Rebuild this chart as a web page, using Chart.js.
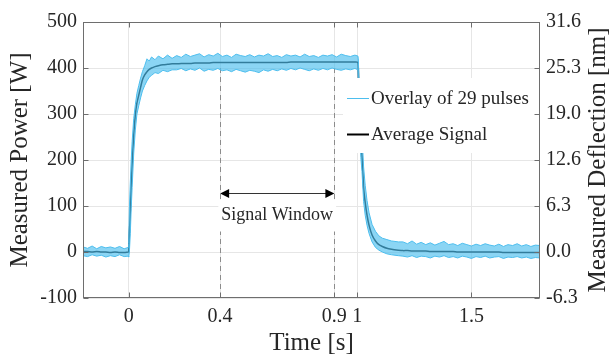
<!DOCTYPE html>
<html>
<head>
<meta charset="utf-8">
<script src="https://cdn.jsdelivr.net/npm/chart.js@4.4.1/dist/chart.umd.min.js"></script>
<style>
  html, body { margin: 0; padding: 0; background: #fff; }
  #wrap { width: 611px; height: 358px; }
</style>
</head>
<body>
<div id="wrap"><canvas id="pulseChart" width="611" height="358"></canvas></div>
<script>
// time base [s] and values [W]
const time = [
  -0.2, -0.18, -0.16, -0.14, -0.12, -0.1, -0.08, -0.06, -0.04, -0.02, -0.002,
  0, 0.003, 0.007, 0.011, 0.015, 0.022, 0.029, 0.036, 0.044, 0.052, 0.06, 0.07, 0.08, 0.09, 0.1, 0.115, 0.13, 0.15, 0.17, 0.19,
  0.21, 0.23, 0.25, 0.27, 0.29, 0.31, 0.33, 0.35, 0.37, 0.39, 0.41, 0.43, 0.45, 0.47, 0.49, 0.51, 0.53, 0.55, 0.57, 0.59,
  0.61, 0.63, 0.65, 0.67, 0.69, 0.71, 0.73, 0.75, 0.77, 0.79, 0.81, 0.83, 0.85, 0.87, 0.89, 0.91, 0.93, 0.95, 0.97, 0.99,
  1.003,
  1.005, 1.008, 1.012, 1.016, 1.021, 1.028, 1.035, 1.043, 1.052, 1.065, 1.08, 1.095, 1.11, 1.13, 1.15, 1.18,
  1.2, 1.22, 1.24, 1.26, 1.28, 1.3, 1.32, 1.34, 1.36, 1.38, 1.4, 1.42, 1.44, 1.46, 1.48, 1.5,
  1.52, 1.54, 1.56, 1.58, 1.6, 1.62, 1.64, 1.66, 1.68, 1.7, 1.72, 1.74, 1.76, 1.78, 1.8
];
const avgPower = [
  1, 1, 0, 1, 0, 0, -1, 0, -1, -1, 0,
  0, 40, 88, 145, 189, 254, 298, 324, 341, 358, 374, 385, 392, 397, 400, 403, 405, 407, 408, 409,
  409, 410, 410, 410, 411, 411, 411, 411, 412, 412, 412, 412, 412, 412, 412, 412, 412, 412, 412, 412,
  412, 412, 412, 412, 412, 413, 413, 413, 413, 413, 413, 413, 413, 413, 413, 413, 413, 413, 413, 413,
  412,
  395, 330, 275, 240, 211, 140, 108, 80, 58, 37, 24, 16, 12, 8, 6, 4,
  3, 3, 2, 2, 2, 2, 1, 1, 1, 1, 1, 1, 0, 0, 0, 0,
  0, 0, 0, 0, 0, 0, -1, -1, -1, -1, -1, -1, -1, -1, -1
];
const overlayHigh = [
  11, 8, 13, 7, 12, 9, 11, 8, 12, 7, 10,
  18, 95, 150, 200, 240, 290, 320, 345, 362, 378, 392, 405, 420, 415, 424, 418, 426, 420, 428, 421,
  427, 423, 430, 425, 428, 431, 424, 429, 426, 432, 425, 428, 423, 430, 427, 425, 429, 424, 428, 426,
  431, 425, 427, 423, 429, 426, 428, 424, 430, 425, 427, 423, 428, 426, 429, 424, 430, 427, 425, 428,
  426,
  420, 370, 320, 285, 255, 185, 145, 112, 85, 60, 45, 35, 30, 27, 24, 22,
  22, 18, 24, 17, 21, 16, 20, 15, 19, 23, 16, 18, 14, 19, 16, 13,
  17, 14, 18, 15, 13, 17, 12, 16, 14, 18, 13, 16, 12, 15, 14
];
const overlayLow = [
  -8, -10, -6, -9, -7, -11, -8, -10, -6, -10, -9,
  -11, 0, 40, 95, 140, 215, 265, 300, 318, 335, 350, 362, 372, 380, 384, 390, 388, 395, 392, 396,
  396, 399, 394, 398, 395, 400, 393, 397, 395, 399, 394, 396, 392, 397, 394, 391, 395, 393, 390, 396,
  393, 397, 394, 398, 395, 399, 396, 400, 397, 394, 398, 395, 399, 396, 400, 397, 395, 398, 396, 399,
  396,
  370, 300, 245, 205, 175, 110, 80, 58, 40, 22, 10, 4, 0, -4, -6, -8,
  -9, -11, -8, -12, -9, -10, -13, -9, -11, -8, -12, -10, -13, -9, -11, -14,
  -10, -12, -9, -13, -11, -10, -14, -11, -12, -10, -13, -11, -14, -12, -13
];

const xTicks = [0, 0.4, 0.9, 1, 1.5];
const powerTicks = [-100, 0, 100, 200, 300, 400, 500];
const nmPerWatt = 0.0632;
const windowStart = 0.4;
const windowEnd = 0.9;
const windowLevel = 128;
const windowTop = 400;
const legendLabels = ["Overlay of 29 pulses", "Average Signal"];

const blue = "#4DBEEE";
const ink = "#262626";
const serif = "'Liberation Serif', 'Times New Roman', serif";

const pts = (ys) => time.map((t, i) => ({ x: t, y: ys[i] }));

const decor = {
  id: "decor",
  beforeDatasetsDraw(chart) {
    const { ctx, scales: { x, y } } = chart;
    ctx.save();
    ctx.strokeStyle = "#8c8c8c";
    ctx.lineWidth = 1;
    ctx.setLineDash([5, 4]);
    [windowStart, windowEnd].forEach((v) => {
      const px = Math.round(x.getPixelForValue(v)) + 0.5;
      ctx.beginPath();
      ctx.moveTo(px, y.getPixelForValue(windowTop));
      ctx.lineTo(px, y.getPixelForValue(-100));
      ctx.stroke();
    });
    ctx.restore();
  },
  afterDatasetsDraw(chart) {
    const { ctx, chartArea: a, scales: { x, y } } = chart;
    ctx.save();

    // signal window arrow
    const x1 = x.getPixelForValue(windowStart);
    const x2 = x.getPixelForValue(windowEnd);
    const ay = Math.round(y.getPixelForValue(windowLevel)) + 0.5;
    ctx.strokeStyle = "#333";
    ctx.fillStyle = "#000";
    ctx.lineWidth = 1;
    ctx.beginPath();
    ctx.moveTo(x1 + 4, ay);
    ctx.lineTo(x2 - 4, ay);
    ctx.stroke();
    [[x1, 1], [x2, -1]].forEach(([px, d]) => {
      ctx.beginPath();
      ctx.moveTo(px, ay);
      ctx.lineTo(px + d * 9, ay - 4.5);
      ctx.lineTo(px + d * 9, ay + 4.5);
      ctx.closePath();
      ctx.fill();
    });

    ctx.font = "18px " + serif;
    const label = "Signal Window";
    const tw = ctx.measureText(label).width;
    const cx = (x1 + x2) / 2;
    ctx.fillStyle = "#fff";
    ctx.fillRect(cx - tw / 2 - 3, ay + 6, tw + 6, 32);
    ctx.fillStyle = ink;
    ctx.textAlign = "center";
    ctx.textBaseline = "middle";
    ctx.fillText(label, cx, ay + 22);

    // legend
    const lx = 343, ly = 78, lw = a.right - lx - 1, lh = 75;
    ctx.fillStyle = "#fff";
    ctx.fillRect(lx, ly, lw, lh);
    ctx.font = "19px " + serif;
    ctx.textAlign = "left";
    const rows = [[blue, 1, 98], ["#000", 2, 134]];
    rows.forEach(([c, w, ry], i) => {
      ctx.strokeStyle = c;
      ctx.lineWidth = w;
      ctx.beginPath();
      ctx.moveTo(347, ry + 0.5);
      ctx.lineTo(369, ry + 0.5);
      ctx.stroke();
      ctx.fillStyle = ink;
      ctx.fillText(legendLabels[i], 371, ry + 1);
    });

    // axes box with inner ticks
    ctx.strokeStyle = "#6e6e6e";
    ctx.lineWidth = 1;
    const L = Math.round(a.left) + 0.5, R = Math.round(a.right) - 0.5;
    const T = Math.round(a.top) + 0.5, B = Math.round(a.bottom) - 0.5;
    ctx.strokeRect(L, T, R - L, B - T);
    ctx.beginPath();
    xTicks.forEach((v) => {
      const px = Math.round(x.getPixelForValue(v)) + 0.5;
      ctx.moveTo(px, B); ctx.lineTo(px, B - 5);
      ctx.moveTo(px, T); ctx.lineTo(px, T + 5);
    });
    powerTicks.forEach((v) => {
      const py = Math.round(y.getPixelForValue(v)) + 0.5;
      ctx.moveTo(L, py); ctx.lineTo(L + 5, py);
      ctx.moveTo(R, py); ctx.lineTo(R - 5, py);
    });
    ctx.stroke();

    // right axis title (reads bottom to top)
    ctx.translate(598, (a.top + a.bottom) / 2);
    ctx.rotate(-Math.PI / 2);
    ctx.font = "25px " + serif;
    ctx.fillStyle = ink;
    ctx.textAlign = "center";
    ctx.textBaseline = "middle";
    ctx.fillText("Measured Deflection [nm]", 0, 0);
    ctx.restore();
  }
};

new Chart(document.getElementById("pulseChart"), {
  type: "line",
  data: {
    datasets: [
      { label: legendLabels[0], data: pts(overlayHigh), borderColor: blue, borderWidth: 1, backgroundColor: "rgba(77,190,238,0.65)", fill: "+1", pointRadius: 0, tension: 0, yAxisID: "y" },
      { label: "low", data: pts(overlayLow), borderColor: blue, borderWidth: 1, fill: false, pointRadius: 0, tension: 0, yAxisID: "y" },
      { label: legendLabels[1], data: pts(avgPower), borderColor: "#000", borderWidth: 1.5, fill: false, pointRadius: 0, tension: 0.2, yAxisID: "y" }
    ]
  },
  options: {
    responsive: false,
    devicePixelRatio: 1,
    animation: false,
    layout: { padding: { top: 22, left: 0, right: 0, bottom: 0 } },
    plugins: { legend: { display: false }, tooltip: { enabled: false } },
    scales: {
      x: {
        type: "linear",
        min: -0.2,
        max: 1.8,
        afterBuildTicks: (s) => { s.ticks = xTicks.map((v) => ({ value: v })); },
        afterFit: (s) => { s.height = 60; },
        ticks: { autoSkip: false, maxRotation: 0, padding: 7, color: ink, font: { family: serif, size: 20 }, callback: (v) => String(v) },
        grid: { color: "#e6e6e6", drawTicks: false },
        border: { display: false },
        title: { display: true, text: "Time [s]", color: ink, font: { family: serif, size: 25 }, padding: { top: 0, bottom: 0 } }
      },
      y: {
        position: "left",
        min: -100,
        max: 500,
        afterBuildTicks: (s) => { s.ticks = powerTicks.map((v) => ({ value: v })); },
        afterFit: (s) => { s.width = 83; },
        ticks: { padding: 6, color: ink, font: { family: serif, size: 20 } },
        grid: { color: "#e6e6e6", drawTicks: false },
        border: { display: false },
        title: { display: true, text: "Measured Power [W]", color: ink, font: { family: serif, size: 25 }, padding: { top: 5, bottom: 0 } }
      },
      y2: {
        position: "right",
        min: -100 * nmPerWatt,
        max: 500 * nmPerWatt,
        afterBuildTicks: (s) => { s.ticks = powerTicks.map((v) => ({ value: v * nmPerWatt })); },
        afterFit: (s) => { s.width = 71; },
        ticks: { padding: 6, color: ink, font: { family: serif, size: 20 }, callback: (v) => v.toFixed(1) },
        grid: { display: false, drawTicks: false },
        border: { display: false }
      }
    }
  },
  plugins: [decor]
});
</script>
</body>
</html>
